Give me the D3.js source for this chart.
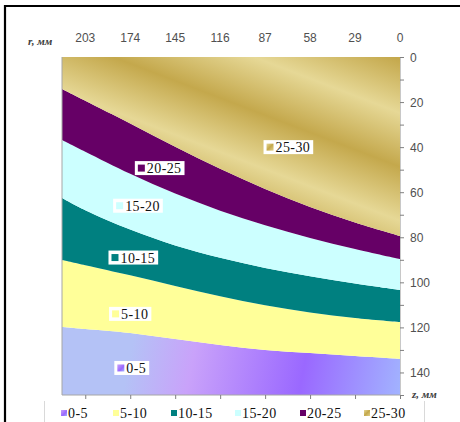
<!DOCTYPE html>
<html>
<head>
<meta charset="utf-8">
<script src="https://cdn.jsdelivr.net/npm/d3@7/dist/d3.min.js"></script>
<style>
  body { margin: 0; background: #fff; }
  .tick-lbl { font-family: "Liberation Sans", Arial, sans-serif; font-size: 12px; fill: #505050; }
  .band-lbl { font-family: "Liberation Serif", "Times New Roman", serif; font-size: 14px; fill: #111; letter-spacing: 0.4px; }
  .axis-name { font-family: "Liberation Serif", serif; font-size: 11px; font-style: italic; font-weight: bold; fill: #404040; }
</style>
</head>
<body>
<div id="chart"></div>
<script>
var svgWidth = 460;
var svgHeight = 422;

// r values of the grid columns (mm) and the top tick labels
var rGrid = [218, 203, 174, 145, 116, 87, 58, 29, 0];
var rTicks = [203, 174, 145, 116, 87, 58, 29, 0];
var zTicks = [0, 20, 40, 60, 80, 100, 120, 140];

// z (mm) of each band border, one value per rGrid column
var border5  = [119.8, 120.7, 122.5, 125.2, 127.8, 130.0, 131.4, 132.7, 134.0];
var border10 = [90.1, 92.4, 96.9, 101.6, 106.2, 110.2, 113.4, 115.8, 117.6];
var border15 = [62.6, 68.0, 76.6, 83.6, 89.1, 93.6, 97.3, 100.5, 103.4];
var border20 = [36.8, 42.0, 51.8, 60.6, 68.2, 74.7, 80.3, 85.2, 89.7];
var border25 = [14.2, 19.4, 29.5, 39.8, 49.6, 58.6, 66.6, 73.4, 79.4];

var bandNames = ["0-5", "5-10", "10-15", "15-20", "20-25", "25-30"];
var bandColors = ["url(#gViolet)", "#FFFF99", "#008080", "#CCFFFF", "#660066", "url(#gGold)"];
var swatchColors = ["url(#sViolet)", "#FFFF99", "#008080", "#CCFFFF", "#660066", "url(#sGold)"];

// where the band names sit inside the plot (r, z)
var labelR = [173, 174, 172, 169, 155, 72];
var labelZ = [138, 114, 89, 66, 49.3, 40];

var margin = { top: 57, right: 59, bottom: 27, left: 62 };
var width = svgWidth - margin.left - margin.right;
var height = svgHeight - margin.top - margin.bottom;

var svg = d3.select("#chart").append("svg")
  .attr("width", svgWidth)
  .attr("height", svgHeight);

var defs = svg.append("defs");

// gold fill has diagonal light/dark stripes
defs.append("linearGradient").attr("id", "gGold")
  .attr("gradientUnits", "userSpaceOnUse")
  .attr("x1", 200).attr("y1", 57).attr("x2", 182).attr("y2", 104)
  .attr("spreadMethod", "reflect")
  .selectAll("stop").data([["0", "#C4A84C"], ["1", "#E6D896"]]).enter()
  .append("stop").attr("offset", d => d[0]).attr("stop-color", d => d[1]);

defs.append("linearGradient").attr("id", "gViolet")
  .attr("gradientUnits", "userSpaceOnUse")
  .attr("x1", 62).attr("y1", 330).attr("x2", 402).attr("y2", 395)
  .selectAll("stop").data([["0", "#B4C2F6"], ["0.18", "#C9A2FA"], ["0.5", "#9A68FF"], ["0.8", "#A2B6FF"], ["1", "#A0D0FF"]]).enter()
  .append("stop").attr("offset", d => d[0]).attr("stop-color", d => d[1]);

defs.append("linearGradient").attr("id", "sGold")
  .attr("x1", 0).attr("y1", 0).attr("x2", 1).attr("y2", 1)
  .selectAll("stop").data([["0", "#E6D896"], ["0.5", "#C4A84C"], ["1", "#E0D08A"]]).enter()
  .append("stop").attr("offset", d => d[0]).attr("stop-color", d => d[1]);

defs.append("linearGradient").attr("id", "sViolet")
  .attr("x1", 0).attr("y1", 0).attr("x2", 1).attr("y2", 1)
  .selectAll("stop").data([["0", "#C9A2FA"], ["0.6", "#9A68FF"], ["1", "#A2B6FF"]]).enter()
  .append("stop").attr("offset", d => d[0]).attr("stop-color", d => d[1]);

// outer frame of the picture (black, top and left only)
svg.append("line").attr("x1", 4).attr("x2", 460).attr("y1", 6).attr("y2", 6)
  .attr("stroke", "#000").attr("stroke-width", 2.2);
svg.append("line").attr("x1", 5).attr("x2", 5).attr("y1", 5).attr("y2", 422)
  .attr("stroke", "#000").attr("stroke-width", 2.2);

var chartGroup = svg.append("g")
  .attr("transform", `translate(${margin.left}, ${margin.top})`);

var xScale = d3.scaleLinear().domain([218, 0]).range([0, width - 1]);
var yScale = d3.scaleLinear().domain([0, 150]).range([0, height]);

// build the bands: [lower z border, upper z border]
var top0 = rGrid.map(() => 0);
var bottom150 = rGrid.map(() => 150);
var borders = [bottom150, border5, border10, border15, border20, border25, top0];

var bands = bandNames.map(function(name, i) {
  return rGrid.map(function(r, j) {
    return { r: r, zLow: borders[i][j], zHigh: borders[i + 1][j] };
  });
});

var area = d3.area()
  .x(d => xScale(d.r))
  .y0(d => yScale(d.zLow))
  .y1(d => yScale(d.zHigh))
  .curve(d3.curveCatmullRom.alpha(0.5));

chartGroup.selectAll(".band")
  .data(bands)
  .enter()
  .append("path")
  .attr("class", "band")
  .attr("d", area)
  .attr("fill", (d, i) => bandColors[i])
  .attr("stroke", "none");

// plot borders
chartGroup.append("line").attr("x1", 0).attr("x2", 0).attr("y1", 0).attr("y2", height)
  .attr("stroke", "#a6a6a6");
chartGroup.append("line").attr("x1", 0).attr("x2", width).attr("y1", height).attr("y2", height)
  .attr("stroke", "#a6a6a6");
chartGroup.append("line").attr("x1", width - 0.5).attr("x2", width - 0.5).attr("y1", 0).attr("y2", height)
  .attr("stroke", "#c8c8c8");

// bottom ticks (no labels)
var bottomAxis = d3.axisBottom(xScale).tickValues(rTicks).tickSize(4).tickFormat("");
var gBottom = chartGroup.append("g")
  .attr("transform", `translate(0, ${height})`)
  .call(bottomAxis);
gBottom.select(".domain").remove();
gBottom.selectAll("line").attr("stroke", "#808080");

// top labels
chartGroup.selectAll(".rlab")
  .data(rTicks)
  .enter()
  .append("text")
  .attr("class", "tick-lbl")
  .attr("x", d => xScale(d))
  .attr("y", -15)
  .attr("text-anchor", "middle")
  .text(d => d);

chartGroup.append("text")
  .attr("class", "axis-name")
  .attr("x", -34).attr("y", -12)
  .text("r, мм");

// right axis
var rightAxis = d3.axisRight(yScale).tickValues(d3.range(0, 151, 10)).tickSize(4)
  .tickFormat(d => zTicks.indexOf(d) >= 0 ? d : "");
var gRight = chartGroup.append("g")
  .attr("transform", `translate(${width - 1}, 0)`)
  .call(rightAxis);
gRight.select(".domain").remove();
gRight.selectAll("line").attr("stroke", "#808080");
gRight.selectAll("text")
  .attr("class", "tick-lbl")
  .attr("x", 10)
  .attr("dy", "0.35em")
  .attr("font-family", null).attr("font-size", null);

chartGroup.append("text")
  .attr("class", "axis-name")
  .attr("x", width + 11).attr("y", height + 3)
  .text("z, мм");

// band labels inside the plot
var labelGroups = chartGroup.selectAll(".blab")
  .data(bandNames)
  .enter()
  .append("g")
  .attr("class", "blab")
  .attr("transform", (d, i) => `translate(${xScale(labelR[i])}, ${yScale(labelZ[i])})`);

labelGroups.each(function(name, i) {
  var g = d3.select(this);
  var bg = g.append("rect").attr("fill", "#fff");
  g.append("rect")
    .attr("x", 0).attr("y", -3.5).attr("width", 7).attr("height", 7)
    .attr("fill", swatchColors[i]);
  var t = g.append("text")
    .attr("class", "band-lbl")
    .attr("x", 9).attr("y", 5)
    .text(name);
  var w = t.node().getComputedTextLength() + 9;
  g.attr("transform", `translate(${xScale(labelR[i]) - w / 2}, ${yScale(labelZ[i])})`);
  bg.attr("x", -3).attr("y", -7).attr("width", w + 6).attr("height", 14);
});

// legend at the bottom
var legendX = [61, 113, 171, 235, 300, 364];
svg.append("line").attr("x1", 44.5).attr("x2", 44.5).attr("y1", 401).attr("y2", 422).attr("stroke", "#d9d9d9");
svg.append("line").attr("x1", 424.5).attr("x2", 424.5).attr("y1", 401).attr("y2", 422).attr("stroke", "#d9d9d9");

var legend = svg.selectAll(".leg")
  .data(bandNames)
  .enter()
  .append("g")
  .attr("class", "leg")
  .attr("transform", (d, i) => `translate(${legendX[i]}, 413)`);

legend.append("rect")
  .attr("x", 0).attr("y", -3).attr("width", 6).attr("height", 6)
  .attr("fill", (d, i) => swatchColors[i]);
legend.append("text")
  .attr("class", "band-lbl")
  .attr("x", 7).attr("y", 5)
  .text(d => d);
</script>
</body>
</html>
